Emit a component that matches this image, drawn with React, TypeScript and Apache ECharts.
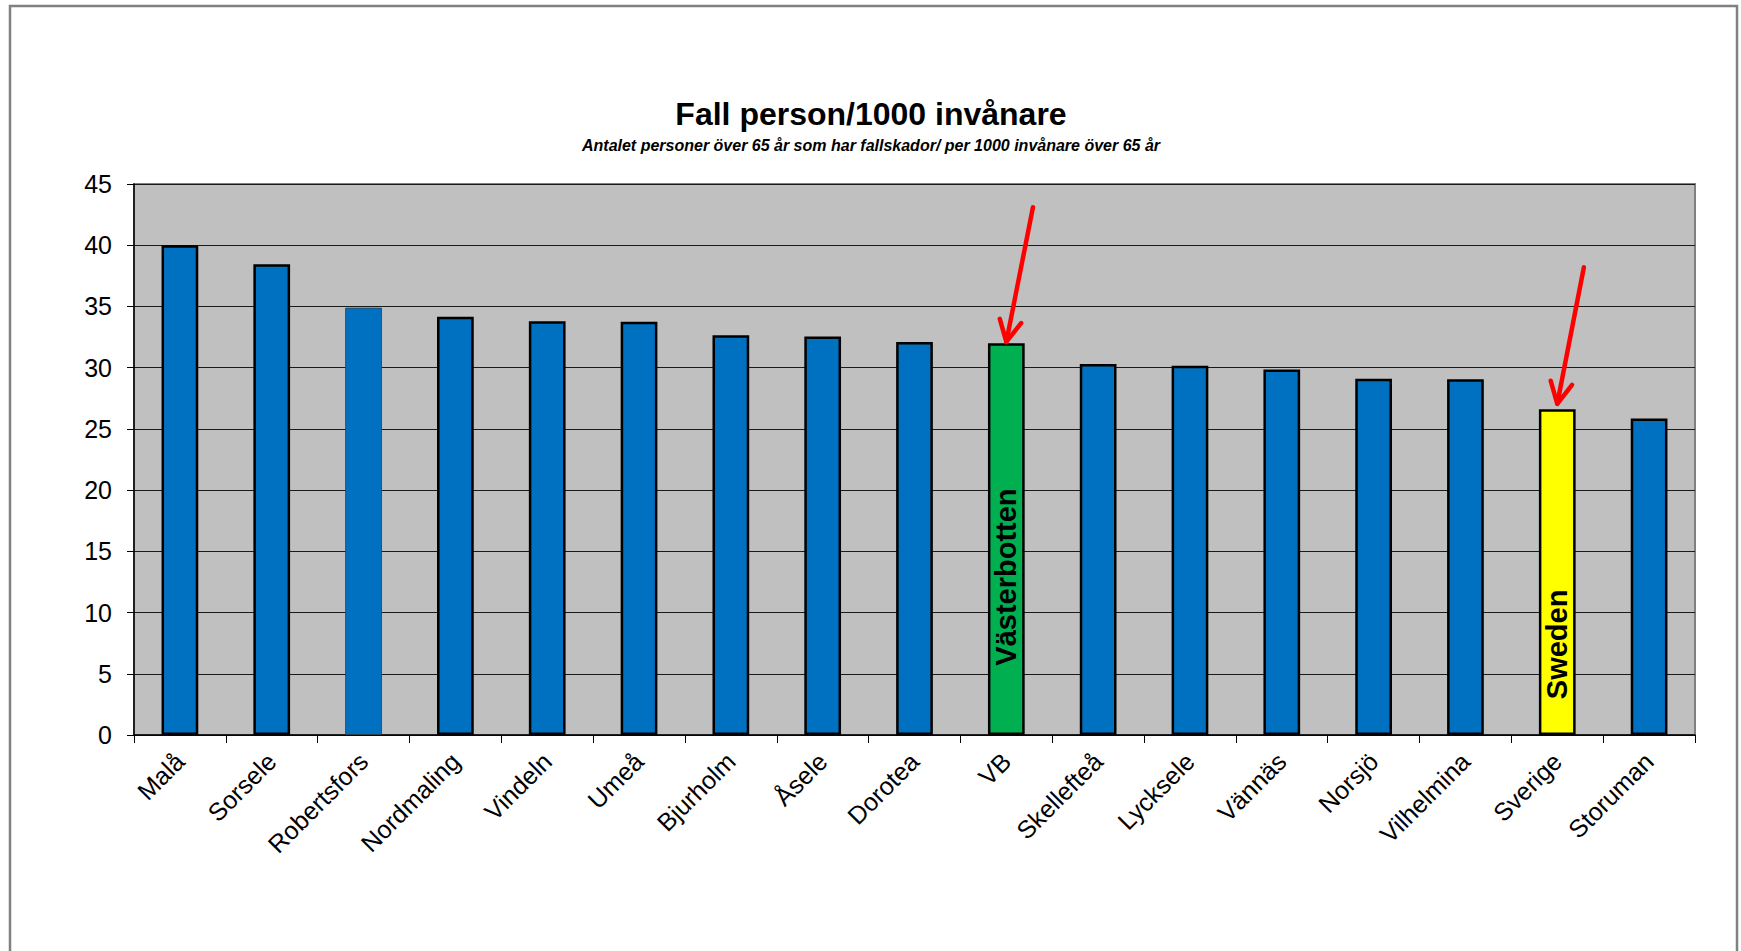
import React, { useEffect, useRef } from "react";
import * as echarts from "echarts";

const categories = [
  "Malå", "Sorsele", "Robertsfors", "Nordmaling", "Vindeln", "Umeå", "Bjurholm", "Åsele", "Dorotea",
  "VB", "Skellefteå", "Lycksele", "Vännäs", "Norsjö", "Vilhelmina", "Sverige", "Storuman",
];
const values = [40.0, 38.45, 34.9, 34.15, 33.8, 33.75, 32.65, 32.55, 32.1, 32.0, 30.3, 30.15, 29.85, 29.1, 29.05, 26.6, 25.85];
const highlightColors: Record<string, string> = { VB: "#00B050", Sverige: "#FFFF00" };
const thinBorder = ["Robertsfors"];
const yMin = 0;
const yMax = 45;
const yInterval = 5;
const titleText = "Fall person/1000 invånare";
const subtitleText = "Antalet personer över 65 år som har fallskador/ per 1000 invånare över 65 år";

// annotations: [category, tip value, tail value, tail offset (in categories)]
const arrows: [string, number, number, number][] = [
  ["VB", 32.1, 43.1, 0.29],
  ["Sverige", 27.05, 38.2, 0.29],
];
// in-bar labels: [category, text, centre value]
const barTexts: [string, string, number][] = [
  ["VB", "Västerbotten", 12.9],
  ["Sverige", "Sweden", 7.4],
];

const FONT = "'Liberation Sans', Arial, sans-serif";

export default function App() {
  const ref = useRef<HTMLDivElement>(null);
  useEffect(() => {
    const chart = echarts.init(ref.current!, null, { renderer: "svg" });
    chart.setOption({
      animation: false,
      backgroundColor: "#ffffff",
      textStyle: { fontFamily: FONT },
      title: [
        {
          text: titleText,
          left: 866,
          top: 93,
          textAlign: "center",
          textStyle: { fontFamily: FONT, fontSize: 32, fontWeight: "bold", color: "#000" },
        },
        {
          text: subtitleText,
          left: 866,
          top: 132,
          textAlign: "center",
          textStyle: { fontFamily: FONT, fontSize: 16, fontWeight: "bold", fontStyle: "italic", color: "#000" },
        },
      ],
      grid: {
        left: 134,
        right: 46,
        top: 184,
        bottom: 216,
        show: true,
        backgroundColor: "#C0C0C0",
        borderColor: "#808080",
        borderWidth: 2,
        containLabel: false,
      },
      xAxis: {
        type: "category",
        data: categories,
        axisLine: { lineStyle: { color: "#000", width: 1.5 } },
        axisTick: { show: true, length: 8, interval: 0, lineStyle: { color: "#000" } },
        axisLabel: {
          interval: 0,
          rotate: 45,
          margin: 22,
          fontFamily: FONT,
          fontSize: 25,
          color: "#000",
        },
        splitLine: { show: false },
      },
      yAxis: {
        type: "value",
        min: yMin,
        max: yMax,
        interval: yInterval,
        axisLine: { show: true, lineStyle: { color: "#000", width: 1.5 } },
        axisTick: { show: true, length: 7, lineStyle: { color: "#000" } },
        axisLabel: { margin: 22, fontFamily: FONT, fontSize: 25, color: "#000" },
        splitLine: { show: true, lineStyle: { color: "#1a1a1a", width: 1 } },
      },
      series: [
        {
          type: "bar",
          barWidth: "40%",
          data: values.map((v, i) => {
            const c = categories[i];
            const thin = thinBorder.includes(c);
            return {
              value: v,
              itemStyle: {
                color: highlightColors[c] || "#0070C0",
                borderColor: thin ? "#3a3a3a" : "#000",
                borderWidth: thin ? 0.8 : 2.5,
              },
            };
          }),
        },
      ],
    });

    const px = (idx: number, v: number) => chart.convertToPixel({ gridIndex: 0 }, [idx, v]) as number[];
    const band = px(1, 0)[0] - px(0, 0)[0];
    const graphics: any[] = [
      {
        type: "rect",
        silent: true,
        shape: { x: 10, y: 6, width: 1727, height: 1000 },
        style: { fill: "none", stroke: "#808080", lineWidth: 2.5 },
      },
    ];
    arrows.forEach(([cat, tipV, tailV, off]) => {
      const idx = categories.indexOf(cat);
      const tip = px(idx, tipV);
      const tail = px(idx, tailV);
      tail[0] += off * band;
      const dx = tail[0] - tip[0];
      const dy = tail[1] - tip[1];
      const len = Math.sqrt(dx * dx + dy * dy);
      const ux = dx / len;
      const uy = dy / len;
      const wing = 24;
      const ang = (27 * Math.PI) / 180;
      const rot = (a: number) => [ux * Math.cos(a) - uy * Math.sin(a), ux * Math.sin(a) + uy * Math.cos(a)];
      const w1 = rot(ang);
      const w2 = rot(-ang);
      const stroke = { stroke: "#FF0000", lineWidth: 4.5, lineCap: "round", lineJoin: "round", fill: "none" };
      graphics.push({ type: "line", silent: true, z: 100, shape: { x1: tail[0], y1: tail[1], x2: tip[0], y2: tip[1] }, style: stroke });
      graphics.push({
        type: "polyline",
        silent: true,
        z: 100,
        shape: {
          points: [
            [tip[0] + w1[0] * wing, tip[1] + w1[1] * wing],
            [tip[0], tip[1]],
            [tip[0] + w2[0] * wing, tip[1] + w2[1] * wing],
          ],
        },
        style: stroke,
      });
    });
    barTexts.forEach(([cat, text, v]) => {
      const idx = categories.indexOf(cat);
      const p = px(idx, v);
      graphics.push({
        type: "text",
        silent: true,
        z: 100,
        x: p[0],
        y: p[1],
        rotation: Math.PI / 2,
        style: {
          text,
          fontFamily: FONT,
          fontSize: 29,
          fontWeight: "bold",
          fill: "#000",
          align: "center",
          verticalAlign: "middle",
        },
      });
    });
    chart.setOption({ graphic: graphics });
    return () => chart.dispose();
  }, []);
  return <div ref={ref} style={{ position: "fixed", left: 0, top: 0, width: 1741, height: 951 }} />;
}
